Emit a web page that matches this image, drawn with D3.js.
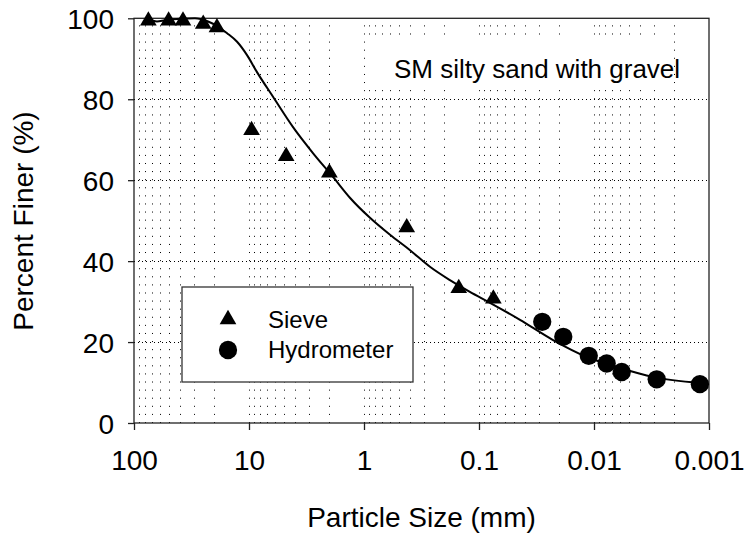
<!DOCTYPE html>
<html><head><meta charset="utf-8">
<script src="https://cdn.jsdelivr.net/npm/d3@7"></script>
<style>
body{margin:0;background:#fff}
svg{display:block}
text{font-family:"Liberation Sans",Arial,Helvetica,sans-serif;fill:#000}
</style>
</head><body><svg id="c" width="748" height="539"></svg>
<script>
// ---- data ----
const sieveSize = [75, 50, 37.5, 25, 19, 9.5, 4.75, 2.0, 0.425, 0.15, 0.075];
const sievePct  = [100, 100, 100, 99.2, 98.3, 72.9, 66.5, 62.4, 48.9, 33.9, 31.3];
const hydroSize = [0.0282, 0.0185, 0.0111, 0.00776, 0.00574, 0.00285, 0.0012];
const hydroPct  = [25.0, 21.3, 16.6, 14.7, 12.6, 10.8, 9.6];
const fitSize = [75.6, 63.1, 53.8, 39.8, 29.5, 22.7, 19.0, 15.5, 12.7, 10.4, 8.52, 6.18, 4.14, 2.78, 1.86, 1.32, 0.887, 0.594, 0.398, 0.267, 0.179, 0.120, 0.0802, 0.0440, 0.0227, 0.0115, 0.00594, 0.00307, 0.0012];
const fitPct  = [99.9, 99.2, 99.5, 99.9, 100, 99.2, 98.1, 96.3, 94.2, 90.9, 86.7, 80.6, 73.1, 66.7, 60.8, 55.6, 50.7, 46.5, 42.7, 38.6, 35.3, 32.4, 29.7, 25.5, 20.5, 16.3, 13.6, 11.4, 9.9];
const xTicks = [100, 10, 1, 0.1, 0.01, 0.001];
const xTickLabels = ["100", "10", "1", "0.1", "0.01", "0.001"];
const yTicks = [0, 20, 40, 60, 80, 100];
const gridMajorY = [20, 40, 60, 80];
const chartTitle = "SM silty sand with gravel";
const xTitle = "Particle Size (mm)";
const yTitle = "Percent Finer (%)";
const legendLabels = ["Sieve", "Hydrometer"];

// ---- layout ----
const L = 134, R = 709, T = 18.3, B = 423;
const svg = d3.select("#c");
const x = d3.scaleLog().domain([100, 0.001]).range([L, R]);
const y = d3.scaleLinear().domain([0, 100]).range([B, T]);

// vertical grid (all log minor positions)
const vGrid = [];
for (let k = -3; k <= 1; k++) {
  for (let m = 1; m <= 9; m++) {
    const v = m * Math.pow(10, k);
    if (v > 0.0011 && v < 99.9) vGrid.push(v);
  }
}
const step = y(0) - y(2);
svg.append("g").selectAll("line").data(vGrid).join("line")
  .attr("x1", d => Math.round(x(d)) + 0.5).attr("x2", d => Math.round(x(d)) + 0.5)
  .attr("y1", B).attr("y2", T)
  .attr("stroke", "#000").attr("stroke-width", 1)
  .attr("stroke-dasharray", `1,${(step - 1).toFixed(3)}`);

// horizontal major grid
svg.append("g").selectAll("line").data(gridMajorY).join("line")
  .attr("x1", L).attr("x2", R)
  .attr("y1", d => Math.round(y(d)) + 0.5).attr("y2", d => Math.round(y(d)) + 0.5)
  .attr("stroke", "#000").attr("stroke-width", 1)
  .attr("stroke-dasharray", "1,3");

// title box
svg.append("rect").attr("x", 368).attr("y", 37).attr("width", 304).attr("height", 51).attr("fill", "#fff");
svg.append("text").attr("x", 394).attr("y", 78).attr("font-size", 26).text(chartTitle);

// frame
svg.append("rect").attr("x", L).attr("y", T).attr("width", R - L).attr("height", B - T)
  .attr("fill", "none").attr("stroke", "#222").attr("stroke-width", 1.3);

// axes
const xAxis = svg.append("g").attr("transform", `translate(0,${B})`)
  .call(d3.axisBottom(x).tickValues(xTicks).tickFormat((d, i) => xTickLabels[i]).tickSize(7).tickSizeOuter(0));
xAxis.select(".domain").remove();
xAxis.selectAll(".tick line").attr("stroke", "#222").attr("stroke-width", 1.3);
xAxis.selectAll(".tick text").attr("y", 47).attr("dy", null).attr("font-size", 28)
  .attr("font-family", '"Liberation Sans",Arial,sans-serif').attr("fill", "#000");

const yAxis = svg.append("g").attr("transform", `translate(${L},0)`)
  .call(d3.axisLeft(y).tickValues(yTicks).tickSize(6).tickSizeOuter(0).tickPadding(14));
yAxis.select(".domain").remove();
yAxis.selectAll(".tick line").attr("stroke", "#222").attr("stroke-width", 1.3);
yAxis.selectAll(".tick text").attr("dy", "0.36em").attr("font-size", 28)
  .attr("font-family", '"Liberation Sans",Arial,sans-serif').attr("fill", "#000");

// axis titles
svg.append("text").attr("x", (L + R) / 2).attr("y", 527).attr("text-anchor", "middle")
  .attr("font-size", 28).text(xTitle);
svg.append("text").attr("transform", "translate(33,221) rotate(-90)").attr("text-anchor", "middle")
  .attr("font-size", 28).text(yTitle);

// fitted curve
const fit = fitSize.map((s, i) => [s, fitPct[i]]);
svg.append("path").datum(fit)
  .attr("d", d3.line().x(d => x(d[0])).y(d => y(d[1])).curve(d3.curveMonotoneX))
  .attr("fill", "none").attr("stroke", "#000").attr("stroke-width", 2);

// markers
const tw = 16.7, th = 14.3;
const triPath = `M0,${-th / 2}L${tw / 2},${th / 2}L${-tw / 2},${th / 2}Z`;
svg.append("g").selectAll("path").data(sieveSize.map((s, i) => [s, sievePct[i]])).join("path")
  .attr("d", triPath).attr("transform", d => `translate(${x(d[0])},${y(d[1])})`).attr("fill", "#000");
svg.append("g").selectAll("circle").data(hydroSize.map((s, i) => [s, hydroPct[i]])).join("circle")
  .attr("cx", d => x(d[0])).attr("cy", d => y(d[1])).attr("r", 9.15).attr("fill", "#000");

// legend
const lg = svg.append("g");
lg.append("rect").attr("x", 182).attr("y", 287).attr("width", 231).attr("height", 95)
  .attr("fill", "#fff").attr("stroke", "#333").attr("stroke-width", 1.3);
lg.append("path").attr("d", triPath).attr("transform", "translate(228,317)").attr("fill", "#000");
lg.append("circle").attr("cx", 228).attr("cy", 350).attr("r", 9.15).attr("fill", "#000");
lg.append("text").attr("x", 268).attr("y", 328).attr("font-size", 24).text(legendLabels[0]);
lg.append("text").attr("x", 268).attr("y", 358).attr("font-size", 24).text(legendLabels[1]);
</script>
</body></html>
